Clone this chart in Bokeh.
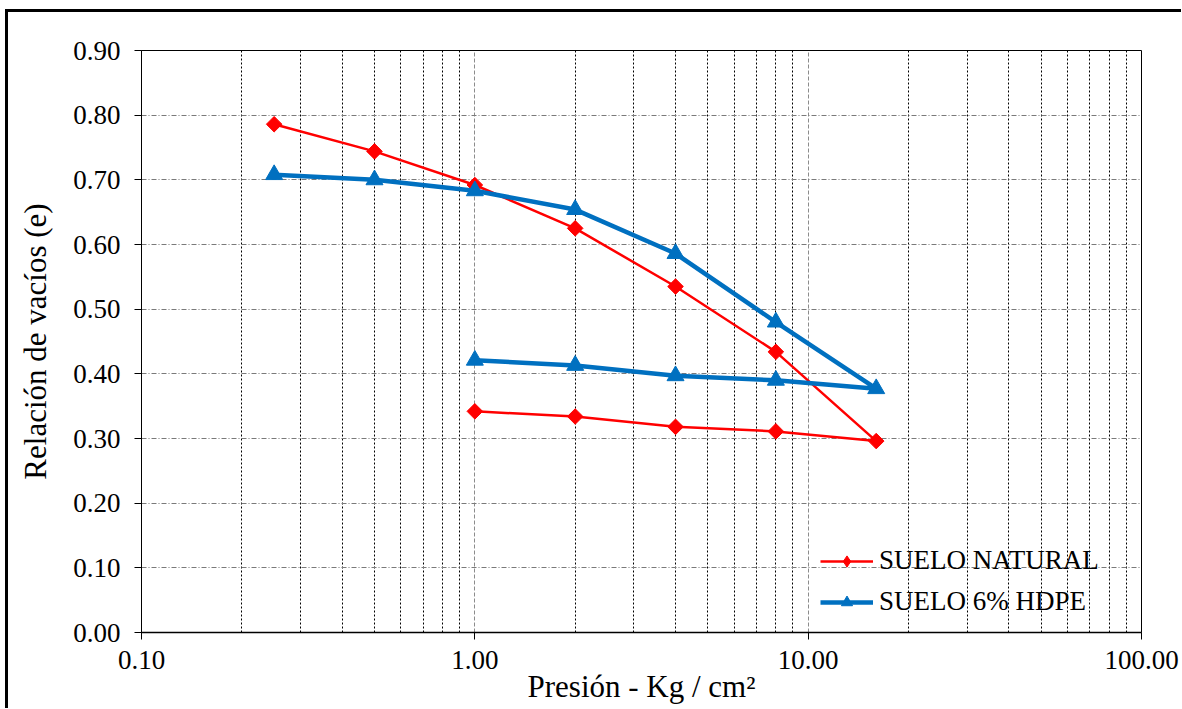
import math
from bokeh.plotting import figure
from bokeh.models import Range1d, FixedTicker, NumeralTickFormatter
from bokeh.embed import file_html
from bokeh.resources import INLINE

# Data
pressure = [0.25, 0.5, 1, 2, 4, 8, 16, 8, 4, 2, 1]
e_natural = [0.786, 0.744, 0.692, 0.625, 0.535, 0.434, 0.296, 0.311, 0.318, 0.334, 0.342]
e_hdpe = [0.708, 0.700, 0.683, 0.654, 0.586, 0.480, 0.377, 0.390, 0.397, 0.413, 0.421]
x_ticks = [0.1, 1, 10, 100]
x_minor = [0.2, 0.3, 0.4, 0.5, 0.6, 0.7, 0.8, 0.9,
           2, 3, 4, 5, 6, 7, 8, 9,
           20, 30, 40, 50, 60, 70, 80, 90]
y_ticks = [0.0, 0.1, 0.2, 0.3, 0.4, 0.5, 0.6, 0.7, 0.8, 0.9]

FONT = "Liberation Serif"

p = figure(width=1181, height=708, x_axis_type="log",
           x_range=Range1d(0.1, 100), y_range=Range1d(0, 0.9),
           output_backend="svg", toolbar_location=None,
           min_border_left=141, min_border_right=40,
           min_border_top=50, min_border_bottom=76)

# outer chart frame (only top/left edges visible in the reference)
p.border_fill_color = None
p.styles = {"background-color": "white",
            "box-shadow": "inset 5px 9px 0px 0px white, inset 8px 12px 0px 0px black"}

p.outline_line_color = "black"
p.outline_line_width = 1
p.background_fill_color = "white"

# Axes
p.xaxis.ticker = FixedTicker(ticks=x_ticks, minor_ticks=x_minor)
p.xaxis.formatter = NumeralTickFormatter(format="0.00")
p.yaxis.ticker = FixedTicker(ticks=y_ticks)
p.yaxis.formatter = NumeralTickFormatter(format="0.00")

for ax in (p.xaxis, p.yaxis):
    ax.axis_line_color = "black"
    ax.major_tick_line_color = "black"
    ax.major_tick_in = 0
    ax.major_tick_out = 7
    ax.minor_tick_line_color = None
    ax.major_label_text_font = FONT
    ax.major_label_text_font_size = "27px"
    ax.major_label_text_color = "black"
    ax.axis_label_text_font = FONT
    ax.axis_label_text_font_size = "31px"
    ax.axis_label_text_font_style = "normal"
    ax.axis_label_text_color = "black"

p.xaxis.axis_line_width = 1.5
p.xaxis.major_label_standoff = 11
p.xaxis.axis_label_standoff = -3
p.yaxis.major_label_standoff = 14
p.yaxis.axis_label_standoff = 17

p.xaxis.axis_label = "Presión - Kg / cm²"
p.yaxis.axis_label = "Relación de vacíos (e)"

# Grids
p.xgrid.grid_line_color = "#8c8c8c"
p.xgrid.grid_line_dash = "4 2"
p.xgrid.minor_grid_line_color = "black"
p.xgrid.minor_grid_line_dash = "2 2"
p.xgrid.minor_grid_line_width = 1
p.ygrid.grid_line_color = "#7a7a7a"
p.ygrid.grid_line_dash = "5 2 1 2"

RED = "#ff0000"
BLUE = "#0070c0"

# Series
p.line(pressure, e_natural, line_color=RED, line_width=2.5,
       legend_label="SUELO NATURAL")
# diamond (used by the legend), hidden under the rotated squares in the plot
p.scatter(pressure, e_natural, marker="diamond", size=14,
          fill_color=RED, line_color=RED, legend_label="SUELO NATURAL")
p.scatter(pressure, e_natural, marker="square", size=11, angle=math.pi / 4,
          fill_color=RED, line_color=RED)

p.line(pressure, e_hdpe, line_color=BLUE, line_width=4.5,
       legend_label="SUELO 6% HDPE")
p.scatter(pressure, e_hdpe, marker="triangle", size=17,
          fill_color=BLUE, line_color=BLUE,
          legend_label="SUELO 6% HDPE")

# Legend
lg = p.legend[0]
lg.location = (679, 15)
lg.background_fill_alpha = 0
lg.border_line_color = None
lg.padding = 0
lg.margin = 0
lg.spacing = 10
lg.glyph_width = 53
lg.glyph_height = 28
lg.label_height = 28
lg.label_standoff = 6
lg.label_text_font = FONT
lg.label_text_font_size = "27px"
lg.label_text_color = "black"

open("out.html", "w").write(file_html(p, INLINE))
